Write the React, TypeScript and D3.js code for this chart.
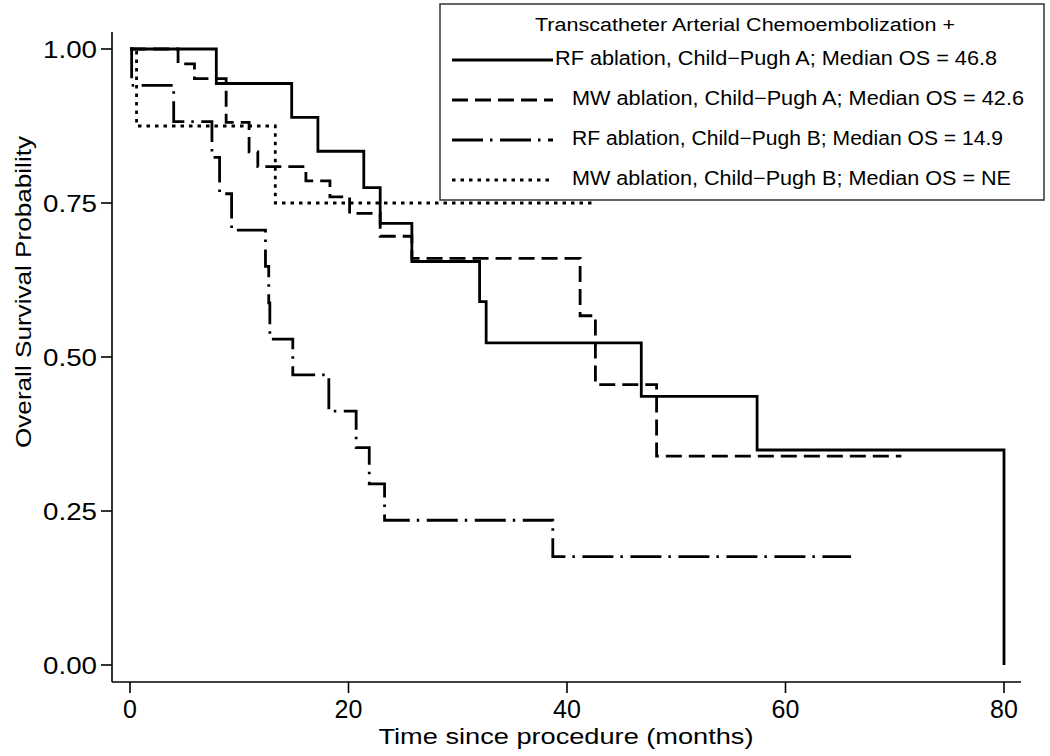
import React from "react";
import * as d3 from "d3";

// ---- data ----
const xTicks = [0, 20, 40, 60, 80];
const yTicks = [0, 0.25, 0.5, 0.75, 1];
const yTickLabels = ["0.00", "0.25", "0.50", "0.75", "1.00"];

// RF ablation, Child-Pugh A (solid)
const rfA_time = [0, 7.9, 14.8, 17.2, 21.4, 22.9, 25.8, 32.0, 32.6, 46.8, 57.4, 80.0];
const rfA_surv = [1, 0.944, 0.889, 0.834, 0.775, 0.717, 0.655, 0.59, 0.523, 0.436, 0.349, 0.0];
const rfA_end = 80.0;

// MW ablation, Child-Pugh A (dashed)
const mwA_time = [0, 4.4, 5.9, 8.8, 10.9, 11.7, 16.1, 18.3, 20.1, 22.9, 25.8, 41.2, 42.6, 48.2];
const mwA_surv = [1, 0.976, 0.952, 0.881, 0.833, 0.809, 0.786, 0.76, 0.733, 0.696, 0.66, 0.567, 0.455, 0.339];
const mwA_end = 70.6;

// RF ablation, Child-Pugh B (dash-dot)
const rfB_time = [0, 0.15, 4.0, 7.5, 8.2, 9.3, 12.4, 12.7, 12.8, 14.9, 18.2, 20.7, 21.9, 23.3, 38.7];
const rfB_surv = [1, 0.941, 0.882, 0.824, 0.765, 0.706, 0.647, 0.588, 0.529, 0.471, 0.412, 0.353, 0.294, 0.235, 0.176];
const rfB_end = 66.0;

// MW ablation, Child-Pugh B (dotted)
const mwB_time = [0, 0.6, 13.3];
const mwB_surv = [1, 0.875, 0.75];
const mwB_end = 42.3;

const legendTitle = "Transcatheter Arterial Chemoembolization +";
const legendLabels = [
  "RF ablation, Child\u2212Pugh A; Median OS = 46.8",
  "MW ablation, Child\u2212Pugh A; Median OS = 42.6",
  "RF ablation, Child\u2212Pugh B; Median OS = 14.9",
  "MW ablation, Child\u2212Pugh B; Median OS = NE",
];

// ---- styles / layout ----
const FONT = "'Liberation Sans', Arial, Helvetica, sans-serif";
const dashes = [null, "16 7", "31 7 2.5 7.5", "3.5 5"];
const legendTextX = [555, 572, 572, 572];
const legendTextLen = [442, 452, 431, 439];

export default function App() {
  const x = d3.scaleLinear().domain([0, 80]).range([130, 1004]);
  const y = d3.scaleLinear().domain([0, 1]).range([665, 49]);

  const series = [
    { t: rfA_time, s: rfA_surv, end: rfA_end },
    { t: mwA_time, s: mwA_surv, end: mwA_end },
    { t: rfB_time, s: rfB_surv, end: rfB_end },
    { t: mwB_time, s: mwB_surv, end: mwB_end },
  ];

  const line = d3
    .line<[number, number]>()
    .x((d) => x(d[0]))
    .y((d) => y(d[1]))
    .curve(d3.curveStepAfter);

  const paths = series.map((sr) => {
    const pts: [number, number][] = sr.t.map((t, i) => [t, sr.s[i]]);
    const last = sr.t[sr.t.length - 1];
    if (sr.end > last) pts.push([sr.end, sr.s[sr.s.length - 1]]);
    return line(pts) || "";
  });

  const axisX0 = 112;
  const axisX1 = 1021;
  const axisY = 682;
  const axisTop = 32;

  const rowBase = [65, 105, 145, 185];

  return (
    <svg
      width={1050}
      height={756}
      style={{ position: "absolute", left: 0, top: 0, background: "#fff" }}
      fontFamily={FONT}
    >
      <rect x={0} y={0} width={1050} height={756} fill="#fff" />

      {/* curves */}
      {paths.map((p, i) => (
        <path
          key={i}
          d={p}
          fill="none"
          stroke="#000"
          strokeWidth={2.8}
          strokeDasharray={dashes[i] || undefined}
          strokeLinecap="butt"
          strokeLinejoin="miter"
        />
      ))}

      {/* y axis */}
      <line x1={axisX0} x2={axisX0} y1={axisTop} y2={axisY} stroke="#000" strokeWidth={1.6} />
      {yTicks.map((v, i) => (
        <g key={i}>
          <line x1={axisX0 - 11} x2={axisX0} y1={y(v)} y2={y(v)} stroke="#000" strokeWidth={1.6} />
          <text
            x={97}
            y={y(v) + 8.5}
            fontSize={24}
            textAnchor="end"
            fill="#000"
            textLength={54}
            lengthAdjust="spacingAndGlyphs"
          >
            {yTickLabels[i]}
          </text>
        </g>
      ))}
      <text
        transform={`translate(31,292) rotate(-90)`}
        fontSize={22}
        textAnchor="middle"
        fill="#000"
        textLength={312}
        lengthAdjust="spacingAndGlyphs"
      >
        Overall Survival Probability
      </text>

      {/* x axis */}
      <line x1={axisX0} x2={axisX1} y1={axisY} y2={axisY} stroke="#000" strokeWidth={1.6} />
      {xTicks.map((v) => (
        <g key={v}>
          <line x1={x(v)} x2={x(v)} y1={axisY} y2={axisY + 11} stroke="#000" strokeWidth={1.6} />
          <text x={x(v)} y={718} fontSize={25} textAnchor="middle" fill="#000">
            {String(v)}
          </text>
        </g>
      ))}
      <text
        x={566}
        y={744}
        fontSize={22}
        textAnchor="middle"
        fill="#000"
        textLength={375}
        lengthAdjust="spacingAndGlyphs"
      >
        Time since procedure (months)
      </text>

      {/* legend */}
      <rect x={440} y={4} width={604} height={196} fill="#fff" stroke="#333" strokeWidth={1.5} />
      <text
        x={535}
        y={31}
        fontSize={18}
        fill="#000"
        textLength={420}
        lengthAdjust="spacingAndGlyphs"
      >
        {legendTitle}
      </text>
      {legendLabels.map((lab, i) => (
        <g key={i}>
          <line
            x1={452}
            x2={553}
            y1={rowBase[i] - 5}
            y2={rowBase[i] - 5}
            stroke="#000"
            strokeWidth={2.8}
            strokeDasharray={dashes[i] || undefined}
          />
          <text
            x={legendTextX[i]}
            y={rowBase[i]}
            fontSize={20}
            fill="#000"
            textLength={legendTextLen[i]}
            lengthAdjust="spacingAndGlyphs"
          >
            {lab}
          </text>
        </g>
      ))}
    </svg>
  );
}
